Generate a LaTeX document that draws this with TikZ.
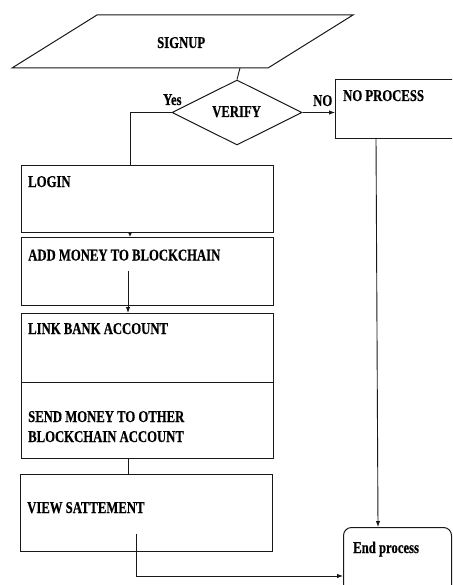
\documentclass[tikz,border=0pt]{standalone}
\usepackage{fontspec}
\setmainfont{Liberation Serif}[BoldFeatures={FakeBold=0.6}]
\usetikzlibrary{shapes.geometric,arrows.meta}
\newcommand\lbl[1]{\scalebox{0.77}[1]{\fontsize{16.5}{20}\selectfont\bfseries #1}}
\begin{document}
\begin{tikzpicture}[x=1pt,y=-1pt,
  edge/.style={line width=0.9pt,draw=black!90},
  arr/.style={edge,-{Latex[length=6pt,width=4.5pt]}},
  stepbox/.style={draw=black!90,line width=1pt,minimum width=252,inner sep=0,anchor=north west},
  txt/.style={inner sep=0,anchor=base west}]
\clip (0,0) rectangle (452,585);
\fill[white] (0,0) rectangle (452,585);

% input parallelogram
\draw[edge,line width=1pt] (97,15) -- (353,15) -- (268,68) -- (12,68) -- cycle;
\node[txt] (signup) at (157,48) {\lbl{SIGNUP}};
\coordinate (signupbot) at (240,68);

% decision
\node[draw=black!90,line width=1pt,diamond,aspect=2,minimum width=130,minimum height=65,inner sep=0] (verify) at (237,112.5) {};
\node[txt] (verifytxt) at (212,117) {\lbl{VERIFY}};
\node[txt] (yes) at (163,105) {\lbl{Yes}};
\node[txt] (no) at (313,106) {\lbl{NO}};

% process boxes
\node[stepbox,minimum height=67] (login) at (21,165) {};
\node[stepbox,minimum height=68] (addmoney) at (21,237) {};
\node[stepbox,minimum height=69] (link) at (21,313) {};
\node[stepbox,minimum height=76] (send) at (21,382) {};
\node[stepbox,minimum height=77] (view) at (20,474) {};
\node[stepbox,minimum width=120,minimum height=59] (noproc) at (335,79) {};
\node[draw=black!90,line width=1pt,rounded corners=8pt,minimum width=108,minimum height=80,inner sep=0,anchor=north west] (endp) at (343,527) {};

\node[txt] (logintxt) at (28,187) {\lbl{LOGIN}};
\node[txt] (addtxt) at (28,260.5) {\lbl{ADD MONEY TO BLOCKCHAIN}};
\node[txt] (linktxt) at (28,334) {\lbl{LINK BANK ACCOUNT}};
\node[txt] (sendtxt) at (28,422) {\lbl{\begin{tabular}[t]{@{}l@{}}SEND MONEY TO OTHER\\BLOCKCHAIN ACCOUNT\end{tabular}}};
\node[txt] (viewtxt) at (27,513) {\lbl{VIEW SATTEMENT}};
\node[txt] (noproctxt) at (343,101) {\lbl{NO PROCESS}};
\node[txt] (endtxt) at (353,553) {\lbl{End process}};

% connectors
\coordinate (yesdrop) at (130,165);
\coordinate (loginbot) at (130,232);
\coordinate (addtop) at (130,237);
\coordinate (addin) at (128,271);
\coordinate (linktop) at (128,313);
\coordinate (sendbot) at (128,458);
\coordinate (viewtop) at (128,474);
\coordinate (viewin) at (136,534);
\coordinate (bottomturn) at (136,576);
\coordinate (endleft) at (343,576);
\coordinate (nodrop) at (376,138);
\coordinate (endtop) at (378,527);

\draw[edge] (signupbot) -- (verify.north);
\draw[edge] (verify.west) -| (yesdrop);
\draw[arr] (verify.east) -- (verify.east -| noproc.west);
\draw[edge,-{Latex[length=4pt,width=3.5pt]}] (loginbot) -- (addtop);
\draw[arr] (addin) -- (linktop);
\draw[edge] (sendbot) -- (viewtop);
\draw[arr] (viewin) -- (bottomturn) -- (endleft);
\draw[arr] (nodrop) -- (endtop);
\end{tikzpicture}
\end{document}
